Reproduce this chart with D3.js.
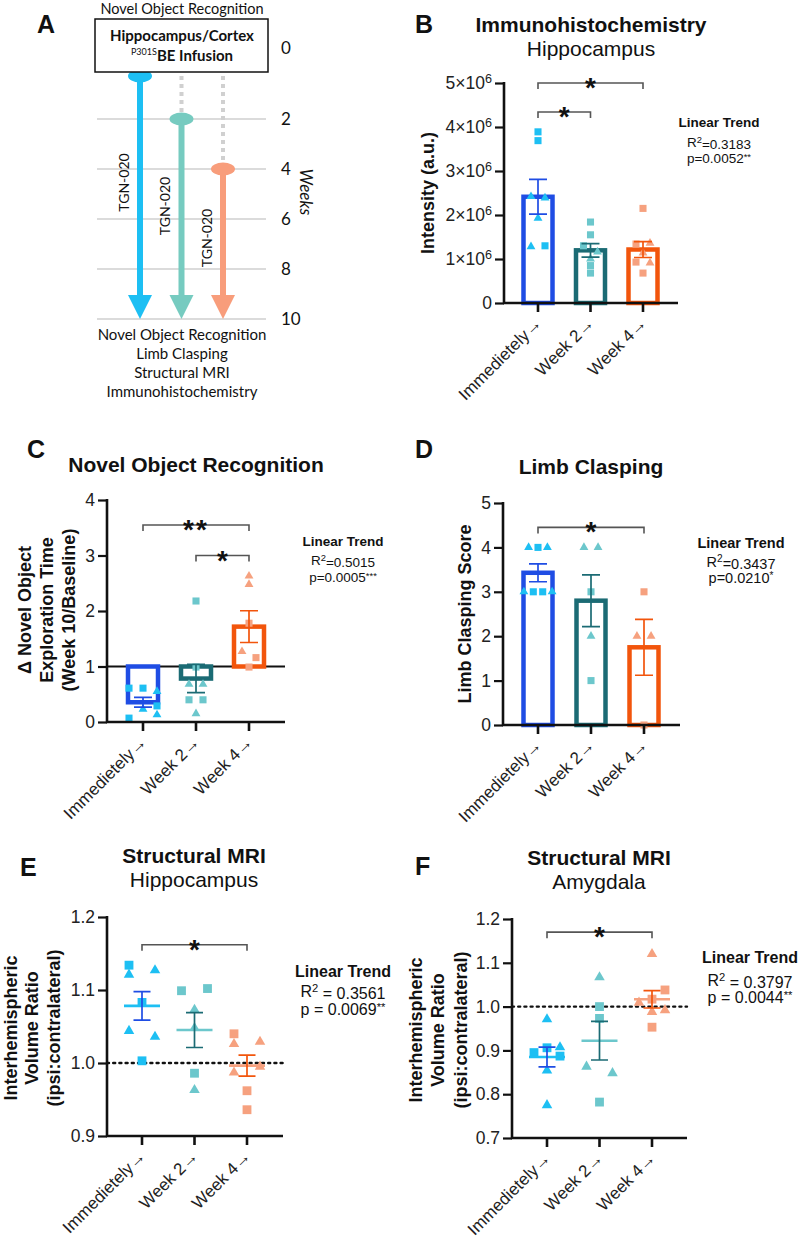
<!DOCTYPE html>
<html><head><meta charset="utf-8">
<script src="https://cdn.jsdelivr.net/npm/d3@7"></script>
<style>body{margin:0;background:#fff}</style>
</head><body>
<svg id="fig" width="799" height="1240"></svg>
<script>
// ================= DATA =================
const groups = ["Immedietely→", "Week 2→", "Week 4→"];

// Panel A timeline
const weekTicks = [0, 2, 4, 6, 8, 10];
const cohortStartWeek = [0, 2, 4];
const cohortEndWeek = 10;
const treatmentLabel = "TGN-020";
const timelineTopText = "Novel Object Recognition";
const timelineBottomText = ["Novel Object Recognition", "Limb Clasping", "Structural MRI", "Immunohistochemistry"];

// Panel B: Immunohistochemistry, hippocampus (intensity, ×10^6 a.u.)
const ihcTicks = [0, 1, 2, 3, 4, 5];
const ihcValues = [
  [3.89, 3.69, 1.30, 2.42, 2.39, 1.93, 1.28],
  [1.84, 1.55, 1.30, 0.85, 0.68, 1.16, 1.00],
  [2.15, 1.34, 0.93, 0.68, 1.36, 1.14, 0.91]
];
const ihcShapes = [
  ["s","s","s","t","t","t","t"],
  ["s","s","s","s","s","t","t"],
  ["s","s","s","s","t","t","t"]
];
const ihcDodge = [[0,0,1,-1,1,0,-1],[0,0,-1,0,0,1,0],[0,-1,-1,0,1,0,1]];
const ihcBrackets = [{a:0, b:2, level:5.0, label:"*"}, {a:0, b:1, level:4.34, label:"*"}];
const ihcStats = {r2:"0.3183", p:"0.0052", stars:"**"};

// Panel C: Novel object recognition (week 10 / baseline)
const norTicks = [0, 1, 2, 3, 4];
const norValues = [
  [0.61, 0.61, 0.29, 0.07, 0.55, 0.23, 0.13],
  [2.18, 0.99, 0.40, 0.40, 0.68, 0.68, 0.15],
  [2.63, 2.48, 1.27, 1.78, 1.16, 0.99]
];
const norShapes = [
  ["s","s","s","s","t","t","t"],
  ["s","s","s","s","t","t","t"],
  ["t","t","t","s","s","s"]
];
const norDodge = [[-2,0,2,-2,2,0,2],[0,0,-1,1,-1,1,0],[0,0,-1,0,1,0]];
const norBrackets = [{a:0, b:2, level:3.55, label:"**"}, {a:1, b:2, level:3.0, label:"*"}];
const norStats = {r2:"0.5015", p:"0.0005", stars:"***"};

// Panel D: Limb clasping score
const claspTicks = [0, 1, 2, 3, 4, 5];
const claspValues = [
  [4, 4, 3, 3, 4, 3, 3],
  [4, 4, 2, 3, 1],
  [3, 2, 2, 0]
];
const claspShapes = [
  ["t","t","t","t","s","s","s"],
  ["t","t","t","s","s"],
  ["s","t","t","s"]
];
const claspDodge = [[-2,2,-3,3,0,-1,1],[-1.5,1.5,0,0,0],[0,-1.5,1.5,0]];
const claspBrackets = [{a:0, b:2, level:4.45, label:"*"}];
const claspStats = {r2:"0.3437", p:"0.0210", stars:"*"};

// Panel E: Structural MRI, hippocampus volume ratio
const mriHipTicks = [0.9, 1.0, 1.1, 1.2];
const mriHipValues = [
  [1.134, 1.083, 1.003, 1.121, 1.127, 1.044, 1.036],
  [1.099, 1.102, 0.986, 1.073, 1.048, 0.963],
  [1.040, 0.962, 0.936, 1.026, 1.029, 0.987, 0.995]
];
const mriHipShapes = [
  ["s","s","s","t","t","t","t"],
  ["s","s","s","t","t","t"],
  ["s","s","s","t","t","t","t"]
];
const mriHipDodge = [[-2,0,0,-2,2,-2,2],[-2,2,0,0,0,0],[-2,0,0,-2,2,-2,2]];
const mriHipBrackets = [{a:0, b:2, level:1.162, label:"*"}];
const mriHipStats = {r2:"0.3561", p:"0.0069", stars:"**"};

// Panel F: Structural MRI, amygdala volume ratio
const mriAmyTicks = [0.7, 0.8, 0.9, 1.0, 1.1, 1.2];
const mriAmyValues = [
  [0.895, 0.906, 0.887, 0.971, 0.907, 0.854, 0.775],
  [1.000, 0.973, 0.782, 1.067, 0.863, 0.848],
  [1.038, 1.017, 0.953, 1.120, 1.009, 0.988, 0.992]
];
const mriAmyShapes = [
  ["s","s","s","t","t","t","t"],
  ["s","s","s","t","t","t"],
  ["s","s","s","t","t","t","t"]
];
const mriAmyDodge = [[-2,0,2,0,2,0,0],[0,0,0,0,-2,2],[2,0,0,0,-2,0,2]];
const mriAmyBrackets = [{a:0, b:2, level:1.17, label:"*"}];
const mriAmyStats = {r2:"0.3797", p:"0.0044", stars:"**"};

// ================= STYLE =================
const FONT = "'Liberation Sans', Arial, Helvetica, sans-serif";
const FONT_A = "Lato, 'Open Sans', sans-serif";
const barStroke = ["#1f4de4", "#1b6b74", "#f2550c"];
const pointFill = ["#1dbff3", "#6cc7cc", "#f6a17f"];
const arrowFill = ["#1dbff3", "#76cbc0", "#f89d7b"];
const INK = "#111";

const svg = d3.select("#fig").style("font-family", FONT);

function letter(t, x, y) {
  svg.append("text").attr("x", x).attr("y", y).attr("font-size", 25).attr("font-weight", "bold")
    .attr("fill", INK).text(t);
}

// ================= PANEL A =================
(function panelA() {
  const g = svg.append("g").style("font-family", FONT_A);
  const wy = d3.scaleLinear().domain([0, 10]).range([69, 319]);
  const cx = d3.scalePoint().domain(groups).range([140, 223]);
  const box = {x: 95, y: 19, w: 173, h: 53};
  const boxBottom = box.y + box.h;

  g.selectAll("line.grid").data(weekTicks.filter(w => w > 0)).join("line")
    .attr("x1", 97).attr("x2", 266).attr("y1", d => wy(d)).attr("y2", d => wy(d))
    .attr("stroke", "#cfcfcf").attr("stroke-width", 1.5);

  g.selectAll("text.wk").data(weekTicks).join("text")
    .attr("x", 281).attr("y", d => d === 0 ? box.y + box.h / 2 + 2 : wy(d))
    .attr("dy", "0.36em").attr("font-size", 17).attr("fill", INK).text(d => d);
  g.append("text").attr("transform", "translate(300,192) rotate(90)")
    .attr("text-anchor", "middle").attr("font-size", 17).attr("font-style", "italic")
    .attr("fill", INK).text("Weeks");

  groups.forEach((grp, i) => {
    const x = cx(grp);
    const start = cohortStartWeek[i];
    const sy = start === 0 ? boxBottom + 4 : wy(start);
    const ey = wy(cohortEndWeek);
    if (start > 0) {
      g.append("line").attr("x1", x).attr("x2", x).attr("y1", boxBottom + 4).attr("y2", sy - 6)
        .attr("stroke", "#d0d0d0").attr("stroke-width", 4).attr("stroke-dasharray", "4,4");
    }
    g.append("line").attr("x1", x).attr("x2", x).attr("y1", sy).attr("y2", ey - 22)
      .attr("stroke", arrowFill[i]).attr("stroke-width", 6);
    g.append("ellipse").attr("cx", x).attr("cy", sy).attr("rx", 12).attr("ry", 6.5).attr("fill", arrowFill[i]);
    g.append("path").attr("d", `M${x - 12},${ey - 24} L${x + 12},${ey - 24} L${x},${ey} Z`).attr("fill", arrowFill[i]);
    const midY = (sy + ey) / 2 + [-15, -13, -6][i];
    g.append("text").attr("transform", `translate(${x - 16},${midY}) rotate(-90)`)
      .attr("text-anchor", "middle").attr("dy", "0.35em").attr("font-size", 14).attr("fill", INK)
      .text(treatmentLabel);
  });

  g.append("rect").attr("x", box.x).attr("y", box.y).attr("width", box.w).attr("height", box.h)
    .attr("fill", "#fff").attr("stroke", INK).attr("stroke-width", 1.5);
  g.append("text").attr("x", 182).attr("y", 41).attr("text-anchor", "middle").attr("font-size", 15)
    .attr("font-weight", "bold").attr("fill", INK).text("Hippocampus/Cortex");
  const t2 = g.append("text").attr("x", 182).attr("y", 61).attr("text-anchor", "middle").attr("fill", INK);
  t2.append("tspan").attr("font-size", 9).attr("dy", "-6").text("P301S");
  t2.append("tspan").attr("font-size", 15).attr("font-weight", "bold").attr("dy", "6").text("BE Infusion");

  g.append("text").attr("x", 182).attr("y", 13.5).attr("text-anchor", "middle").attr("font-size", 14.5)
    .attr("fill", INK).text(timelineTopText);
  g.selectAll("text.bot").data(timelineBottomText).join("text")
    .attr("x", 182).attr("y", (d, i) => 340 + i * 19).attr("text-anchor", "middle")
    .attr("font-size", 15).attr("fill", INK).text(d => d);
})();
letter("A", 37, 33);

// ================= GENERIC PANEL =================
function panel(o) {
  const g = svg.append("g");
  const y = d3.scaleLinear().domain(o.domain).range([o.yBot, o.yTop]);
  const x = d3.scalePoint().domain(groups).range([o.c0, o.c2]);
  const stats = o.values.map(v => ({m: d3.mean(v), s: d3.deviation(v) / Math.sqrt(v.length)}));

  if (o.refLine !== undefined) {
    g.append("line").attr("x1", o.x0).attr("x2", o.x1).attr("y1", y(o.refLine)).attr("y2", y(o.refLine))
      .attr("stroke", INK).attr("stroke-width", o.dotted ? 2.4 : 2)
      .attr("stroke-dasharray", o.dotted ? "2,4.2" : null)
      .attr("stroke-linecap", o.dotted ? "round" : null);
  }

  if (o.type === "bar") {
    g.selectAll("rect.bar").data(stats).join("rect")
      .attr("x", (d, i) => x(groups[i]) - o.bw / 2).attr("width", o.bw)
      .attr("y", d => Math.min(y(o.base), y(d.m)))
      .attr("height", d => Math.abs(y(o.base) - y(d.m)))
      .attr("fill", "none").attr("stroke", (d, i) => barStroke[i]).attr("stroke-width", 4.5);
  }

  o.values.forEach((vals, i) => {
    const cx = x(groups[i]);
    g.selectAll(null).data(vals).join("path")
      .attr("transform", (d, j) => `translate(${cx + o.dodge[i][j] * o.step},${y(d)})`)
      .attr("d", (d, j) => d3.symbol()
        .type(o.shapes[i][j] === "s" ? d3.symbolSquare : d3.symbolTriangle)
        .size(o.shapes[i][j] === "s" ? o.sq : o.tri)())
      .attr("fill", pointFill[i]);
  });

  if (o.type === "scatter") {
    stats.forEach((d, i) => {
      const cx = x(groups[i]);
      g.append("line").attr("x1", cx - o.meanW / 2).attr("x2", cx + o.meanW / 2)
        .attr("y1", y(d.m)).attr("y2", y(d.m)).attr("stroke", pointFill[i]).attr("stroke-width", 2.6);
    });
  }

  stats.forEach((d, i) => {
    const cx = x(groups[i]);
    const ys = [y(d.m - d.s), y(d.m + d.s)];
    const path = `M${cx},${ys[0]}V${ys[1]}M${cx - o.capW / 2},${ys[0]}H${cx + o.capW / 2}M${cx - o.capW / 2},${ys[1]}H${cx + o.capW / 2}`;
    g.append("path").attr("d", path).attr("fill", "none").attr("stroke", barStroke[i]).attr("stroke-width", 1.7);
  });

  const yAx = g.append("g").attr("transform", `translate(${o.x0},0)`)
    .call(d3.axisLeft(y).tickValues(o.ticks).tickSize(9).tickPadding(3).tickFormat(o.fmt));
  yAx.select(".domain").remove();
  yAx.selectAll(".tick line").attr("stroke", INK).attr("stroke-width", 2.2);
  yAx.selectAll(".tick text").attr("font-size", 17.5).attr("fill", "#222").attr("font-family", FONT);
  if (o.sup) {
    yAx.selectAll(".tick text").each(function (d) {
      if (d === 0) return;
      const t = d3.select(this).text(null);
      t.append("tspan").text(d + "×10");
      t.append("tspan").attr("dy", "-0.45em").attr("font-size", "0.72em").text(o.sup);
    });
  }
  g.append("line").attr("x1", o.x0).attr("x2", o.x0).attr("y1", o.yTop - 1).attr("y2", o.yBot + 1)
    .attr("stroke", INK).attr("stroke-width", 2.6);
  g.append("line").attr("x1", o.x0 - 1).attr("x2", o.x1).attr("y1", o.yBot).attr("y2", o.yBot)
    .attr("stroke", INK).attr("stroke-width", 2.6);
  groups.forEach(grp => {
    const cx = x(grp);
    g.append("line").attr("x1", cx).attr("x2", cx).attr("y1", o.yBot).attr("y2", o.yBot + 9)
      .attr("stroke", INK).attr("stroke-width", 2.6);
    g.append("text").attr("transform", `translate(${cx - 4},${o.yBot + 13}) rotate(-45)`)
      .attr("text-anchor", "end").attr("dy", "0.7em").attr("font-size", 17).attr("fill", "#222")
      .text(grp);
  });

  o.brackets.forEach(b => {
    const by = y(b.level), xa = x(groups[b.a]), xb = x(groups[b.b]);
    g.append("path").attr("d", `M${xa},${by + 6}V${by}H${xb}V${by + 6}`)
      .attr("fill", "none").attr("stroke", "#555").attr("stroke-width", 1.6);
    g.append("text").attr("x", (xa + xb) / 2).attr("y", by + 14).attr("text-anchor", "middle")
      .attr("font-size", 28).attr("font-weight", "bold").attr("fill", INK)
      .attr("letter-spacing", b.label.length > 1 ? 2 : 0).text(b.label);
  });

  g.append("text").attr("x", o.titleX).attr("y", o.titleY).attr("text-anchor", "middle")
    .attr("font-size", 21).attr("font-weight", "bold").attr("fill", INK).text(o.title);
  if (o.subtitle) {
    g.append("text").attr("x", o.titleX).attr("y", o.titleY + 24).attr("text-anchor", "middle")
      .attr("font-size", 21).attr("fill", INK).text(o.subtitle);
  }

  o.ylab.forEach((t, i) => {
    g.append("text").attr("transform", `translate(${o.ylabX[i]},${o.ylabY}) rotate(-90)`)
      .attr("text-anchor", "middle").attr("dy", "0.35em").attr("font-size", 18)
      .attr("font-weight", "bold").attr("fill", INK).text(t);
  });

  const tg = g.append("g").attr("text-anchor", "middle").attr("fill", INK).attr("font-size", o.tFont);
  tg.append("text").attr("x", o.tX).attr("y", o.tY[0]).attr("font-weight", "bold").text("Linear Trend");
  const sep = o.spaced ? " = " : "=";
  const r = tg.append("text").attr("x", o.tX).attr("y", o.tY[1]);
  r.append("tspan").text("R");
  r.append("tspan").attr("dy", "-0.45em").attr("font-size", "0.7em").text("2");
  r.append("tspan").attr("dy", "0.45em").text(sep + o.st.r2);
  const p = tg.append("text").attr("x", o.tX).attr("y", o.tY[2]);
  p.append("tspan").text("p" + sep + o.st.p);
  p.append("tspan").attr("dy", "-0.35em").attr("font-size", "0.7em").text(o.st.stars);

  letter(o.letter[0], o.letter[1], o.letter[2]);
}

const fmtInt = d => d;
const fmt1 = d3.format(".1f");

panel({type:"bar", base:0, domain:[0,5], ticks:ihcTicks, fmt:fmtInt, sup:"6",
  values:ihcValues, shapes:ihcShapes, dodge:ihcDodge, brackets:ihcBrackets, st:ihcStats,
  x0:504, x1:678, c0:538, c2:643, yTop:83, yBot:303, bw:29, capW:18, step:7, sq:50, tri:34,
  title:"Immunohistochemistry", subtitle:"Hippocampus", titleX:591, titleY:32,
  ylab:["Intensity (a.u.)"], ylabX:[428], ylabY:193,
  tX:719, tY:[127,147,163], tFont:13.5, letter:["B",415,33]});

panel({type:"bar", base:1, refLine:1, domain:[0,4], ticks:norTicks, fmt:fmtInt,
  values:norValues, shapes:norShapes, dodge:norDodge, brackets:norBrackets, st:norStats,
  x0:107, x1:285, c0:143, c2:249, yTop:500, yBot:722, bw:30, capW:18, step:7, sq:50, tri:34,
  title:"Novel Object Recognition", titleX:196, titleY:472,
  ylab:["Δ Novel Object","Exploration Time","(Week 10/Baseline)"], ylabX:[25,47,69], ylabY:610,
  tX:343, tY:[546,565,582], tFont:13.5, letter:["C",27,458]});

panel({type:"bar", base:0, domain:[0,5], ticks:claspTicks, fmt:fmtInt,
  values:claspValues, shapes:claspShapes, dodge:claspDodge, brackets:claspBrackets, st:claspStats,
  x0:503, x1:680, c0:538, c2:644, yTop:503, yBot:725, bw:29, capW:18, step:4.7, sq:50, tri:34,
  title:"Limb Clasping", titleX:591, titleY:474,
  ylab:["Limb Clasping Score"], ylabX:[465], ylabY:614,
  tX:741, tY:[548,567,583], tFont:14.5, letter:["D",415,458]});

panel({type:"scatter", refLine:1, dotted:true, domain:[0.9,1.2], ticks:mriHipTicks, fmt:fmt1,
  values:mriHipValues, shapes:mriHipShapes, dodge:mriHipDodge, brackets:mriHipBrackets, st:mriHipStats,
  x0:107, x1:283, c0:142, c2:247, yTop:917, yBot:1136, meanW:36, capW:17, step:6.5, sq:78, tri:48,
  title:"Structural MRI", subtitle:"Hippocampus", titleX:194, titleY:863,
  ylab:["Interhemispheric","Volume Ratio","(ipsi:contralateral)"], ylabX:[11,32,54], ylabY:1028,
  tX:343, tY:[977,997,1015], tFont:16, spaced:true, letter:["E",20,876]});

panel({type:"scatter", refLine:1, dotted:true, domain:[0.7,1.2], ticks:mriAmyTicks, fmt:fmt1,
  values:mriAmyValues, shapes:mriAmyShapes, dodge:mriAmyDodge, brackets:mriAmyBrackets, st:mriAmyStats,
  x0:512, x1:687, c0:547, c2:652, yTop:919, yBot:1138, meanW:36, capW:17, step:6.5, sq:78, tri:48,
  title:"Structural MRI", subtitle:"Amygdala", titleX:599, titleY:865,
  ylab:["Interhemispheric","Volume Ratio","(ipsi:contralateral)"], ylabX:[416,438,461], ylabY:1030,
  tX:750, tY:[963,986,1003], tFont:16, spaced:true, letter:["F",415,875]});
</script>
</body></html>
